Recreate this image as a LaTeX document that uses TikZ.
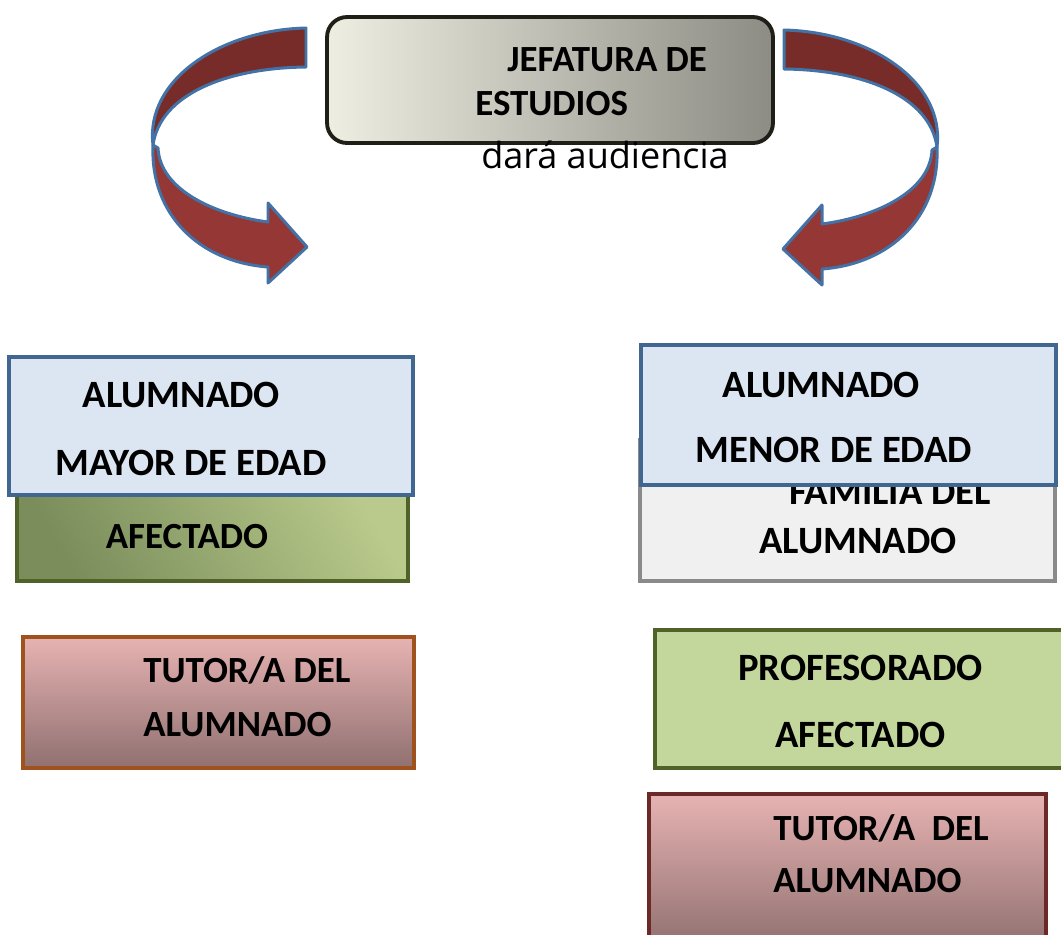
\documentclass[tikz,border=0pt]{standalone}
\usepackage{fontspec}
\setmainfont{Carlito}
\newfontfamily\opensans{Open Sans}
\usepackage{tikz}
\usetikzlibrary{positioning}
\definecolor{JefLeft}{HTML}{EEEEE2}
\definecolor{JefRight}{HTML}{8C8C84}
\definecolor{JefEdge}{HTML}{1F1E17}
\definecolor{RibbonDark}{HTML}{772C2A}
\definecolor{RibbonRed}{HTML}{953735}
\definecolor{RibbonEdge}{HTML}{4272A6}
\definecolor{PaleBlue}{HTML}{DCE6F2}
\definecolor{EdgeBlue}{HTML}{41668F}
\definecolor{PaleGray}{HTML}{F0F0F0}
\definecolor{EdgeGray}{HTML}{8A8A8A}
\definecolor{OliveLight}{HTML}{C3D69B}
\definecolor{OliveMid}{HTML}{BACA8C}
\definecolor{OliveDark}{HTML}{7A8D5B}
\definecolor{EdgeOlive}{HTML}{4F6228}
\definecolor{RoseTop}{HTML}{E6B3B2}
\definecolor{RoseBottom}{HTML}{907070}
\definecolor{EdgeBrown}{HTML}{A0521E}
\definecolor{EdgeMaroon}{HTML}{6B2928}
\tikzset{
  % Box styles
  headbox/.style={rectangle, rounded corners=0.4cm, draw=JefEdge, line width=2.2pt, left color=JefLeft, right color=JefRight},
  bluebox/.style={rectangle, draw=EdgeBlue, line width=2.3pt, fill=PaleBlue},
  graybox/.style={rectangle, draw=EdgeGray, line width=2.3pt, fill=PaleGray},
  olivebox/.style={rectangle, draw=EdgeOlive, line width=1.9pt, fill=OliveLight},
  oliveshade/.style={rectangle, draw=EdgeOlive, line width=1.9pt, left color=OliveDark, right color=OliveMid, shading angle=120},
  rosebox/.style={rectangle, line width=2.3pt, top color=RoseTop, bottom color=RoseBottom},
  % Text styles
  boxtext/.style={font=\bfseries\fontsize{21}{#1}\selectfont, align=left, inner sep=0pt},
  boxtext/.default=25pt,
  bigtext/.style={font=\bfseries\fontsize{22}{#1}\selectfont, align=left, inner sep=0pt},
  bigtext/.default=26pt,
  % Ribbon styles
  ribbonback/.style={fill=RibbonDark, draw=RibbonEdge, line width=1.7pt, line join=round},
  ribbonfront/.style={fill=RibbonRed, draw=RibbonEdge, line width=1.7pt, line join=round},
  ribbonarrow/.pic={
    \filldraw[ribbonfront] (153,145) .. controls (150,215) and (200,262) .. (268,267)
      -- (268,283) -- (307,247) -- (268,203) -- (268,222)
      .. controls (215,215) and (160,190) .. (158,148) -- cycle;
    \filldraw[ribbonback] (306,28) .. controls (220,30) and (145,80) .. (153,145)
      .. controls (160,95) and (225,68) .. (306,67) -- cycle;
  }
}
\begin{document}
\begin{tikzpicture}[x=0.02cm, y=-0.02cm]
  \useasboundingbox (0,0) rectangle (1061,934);
  \clip (0,0) rectangle (1061,934);

  % Head box
  \node[headbox, minimum width=8.92cm, minimum height=2.52cm] (jef) at (550,80) {};
  \node[boxtext=24.7pt, anchor=west] (jefTxt) at (475,81.75) {\hspace*{0.64cm}JEFATURA DE\\ESTUDIOS};
  \node[font=\opensans\fontsize{20.5}{24}\selectfont, anchor=base, inner sep=0pt] (audTxt) at (605,168) {dará audiencia};

  % Ribbon arrows
  \pic (leftRibbon) at (0,0) {ribbonarrow};
  \pic[xscale=-1] (rightRibbon) at (1090,2) {ribbonarrow};

  % Left column
  \node[oliveshade, minimum width=7.82cm, minimum height=2.18cm] (afectL) at (212.5,526.5) {};
  \node[boxtext] (afectLTxt) at (187,537) {AFECTADO};
  \node[bluebox, minimum width=8.08cm, minimum height=2.76cm] (mayor) at (211,426) {};
  \node[bigtext=38.7pt, anchor=west] (mayorTxt) at (55,428.5) {\hspace*{0.55cm}ALUMNADO\\MAYOR DE EDAD};
  \node[rosebox, draw=EdgeBrown, minimum width=7.82cm, minimum height=2.62cm] (tutorL) at (218.5,702.5) {};
  \node[boxtext=30.4pt, anchor=west] (tutorLTxt) at (143,696.75) {TUTOR/A DEL\\ALUMNADO};

  % Right column
  \node[graybox, minimum width=8.3cm, minimum height=2.82cm] (familia) at (847.5,510.5) {};
  \node[bigtext=27.9pt, anchor=west] (familiaTxt) at (759,517) {\hspace*{0.6cm}FAMILIA DEL\\ALUMNADO};
  \node[bluebox, minimum width=8.3cm, minimum height=2.8cm] (menor) at (848.5,415) {};
  \node[bigtext=37.5pt, anchor=west] (menorTxt) at (695,417.5) {\hspace*{0.55cm}ALUMNADO\\MENOR DE EDAD};
  \node[olivebox, minimum width=8.46cm, minimum height=2.76cm] (profes) at (866.5,699) {};
  \node[bigtext=38.1pt, align=center] (profesTxt) at (860.5,701) {PROFESORADO\\AFECTADO};
  \node[rosebox, draw=EdgeMaroon, minimum width=7.94cm, minimum height=3.08cm] (tutorR) at (847.5,871) {};
  \node[boxtext=29.6pt, anchor=west] (tutorRTxt) at (773,853.5) {TUTOR/A\ \ DEL\\ALUMNADO};
\end{tikzpicture}
\end{document}
